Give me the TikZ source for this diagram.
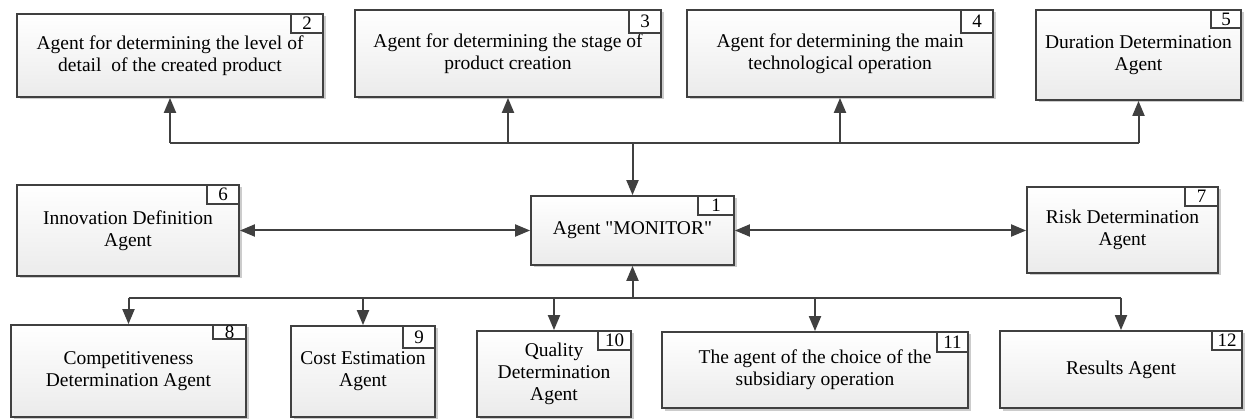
\documentclass[tikz,border=0pt]{standalone}
\usepackage{fontspec}
\setmainfont{Liberation Serif}[Ligatures=TeXOff]
\usetikzlibrary{arrows.meta,shadows}
\definecolor{edge}{HTML}{404040}
\definecolor{boxbot}{HTML}{EBEBEB}
\tikzset{
  agent/.style={draw=edge, line width=1.8pt, top color=white, bottom color=boxbot,
    align=center, inner sep=0pt, font=\fontsize{19.5}{21.8}\selectfont,
    drop shadow={shadow xshift=2.5pt, shadow yshift=-2.5pt, fill=black!20, opacity=1}},
  numbox/.style={draw=edge, line width=1.8pt, fill=white, inner sep=0pt,
    font=\fontsize{19}{19}\selectfont, anchor=north east},
  link/.style={draw=edge, line width=2pt},
  arr/.style={link, -{Triangle[length=15pt,width=12pt]}},
  darr/.style={link, {Triangle[length=15pt,width=12pt]}-{Triangle[length=15pt,width=12pt]}},
}
\begin{document}
\begin{tikzpicture}[x=1pt,y=-1pt]
\useasboundingbox (0,0) rectangle (1247,419);
% boxes
\node[agent, minimum width=203pt, minimum height=69pt] (b1) at (632.5,230.5) {Agent "MONITOR"};
\node[agent, minimum width=306pt, minimum height=83pt] (b2) at (170,55.5) {Agent for determining the level of\\detail~~of the created product};
\node[agent, minimum width=306pt, minimum height=87pt] (b3) at (508,53.5) {Agent for determining the stage of\\product creation};
\node[agent, minimum width=306pt, minimum height=87pt] (b4) at (840,53.5) {Agent for determining the main\\technological operation};
\node[agent, minimum width=205pt, minimum height=90pt] (b5) at (1138.5,55) {Duration Determination\\Agent};
\node[agent, minimum width=222pt, minimum height=91pt] (b6) at (128,230.5) {Innovation Definition\\Agent};
\node[agent, minimum width=191pt, minimum height=86pt] (b7) at (1122.5,230) {Risk Determination\\Agent};
\node[agent, minimum width=235pt, minimum height=92pt] (b8) at (128.5,371) {Competitiveness\\Determination Agent};
\node[agent, minimum width=144pt, minimum height=91pt] (b9) at (363,371.5) {Cost Estimation\\Agent};
\node[agent, minimum width=154pt, minimum height=86pt] (b10) at (554,374) {Quality\\Determination\\Agent};
\node[agent, minimum width=306pt, minimum height=76pt] (b11) at (815,370) {The agent of the choice of the\\subsidiary operation};
\node[agent, minimum width=242pt, minimum height=77pt] (b12) at (1121,369.5) {Results Agent};
% number boxes
\node[numbox, minimum width=36pt, minimum height=19pt] (n1) at (b1.north east) {1};
\node[numbox, minimum width=32pt, minimum height=19pt] (n2) at (b2.north east) {2};
\node[numbox, minimum width=32pt, minimum height=23pt] (n3) at (b3.north east) {3};
\node[numbox, minimum width=32pt, minimum height=23pt] (n4) at (b4.north east) {4};
\node[numbox, minimum width=30pt, minimum height=18pt] (n5) at (b5.north east) {5};
\node[numbox, minimum width=32pt, minimum height=19pt] (n6) at (b6.north east) {6};
\node[numbox, minimum width=33pt, minimum height=19pt] (n7) at (b7.north east) {7};
\node[numbox, minimum width=33pt, minimum height=14pt] (n8) at (b8.north east) {8};
\node[numbox, minimum width=32pt, minimum height=22pt] (n9) at (b9.north east) {9};
\node[numbox, minimum width=33pt, minimum height=19pt] (n10) at (b10.north east) {10};
\node[numbox, minimum width=31pt, minimum height=20pt] (n11) at (b11.north east) {11};
\node[numbox, minimum width=30pt, minimum height=19pt] (n12) at (b12.north east) {12};
% top bus
\coordinate (top) at (632.5,143);
\draw[link] (b2.south |- top) -- (b5.south |- top);
\draw[arr] (top) -- (b1.north);
\draw[arr] (b2.south |- top) -- (b2.south);
\draw[arr] (b3.south |- top) -- (b3.south);
\draw[arr] (b4.south |- top) -- (b4.south);
\draw[arr] (b5.south |- top) -- (b5.south);
% middle
\draw[darr] (b6.east) -- (b6.east -| b1.west);
\draw[darr] (b1.east) -- (b1.east -| b7.west);
% bottom bus
\coordinate (bot) at (632.5,298);
\draw[link] (b8.north |- bot) -- (b12.north |- bot);
\draw[arr] (bot) -- (b1.south);
\draw[arr] (b8.north |- bot) -- (b8.north);
\draw[arr] (b9.north |- bot) -- (b9.north);
\draw[arr] (b10.north |- bot) -- (b10.north);
\draw[arr] (b11.north |- bot) -- (b11.north);
\draw[arr] (b12.north |- bot) -- (b12.north);
\end{tikzpicture}
\end{document}
